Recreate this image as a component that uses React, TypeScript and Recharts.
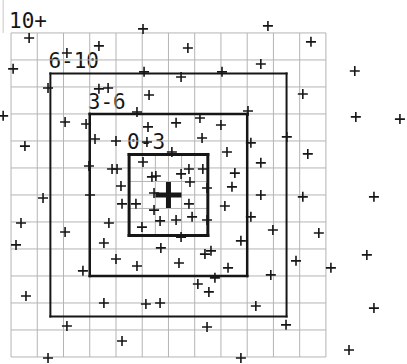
import React from "react";
import {
  ScatterChart,
  Scatter,
  XAxis,
  YAxis,
  ReferenceLine,
  ReferenceArea,
} from "recharts";

// grid runs 0..12 on both axes, points may fall outside it
const gridTicks = [0, 1, 2, 3, 4, 5, 6, 7, 8, 9, 10, 11, 12];
const fineTicks = [5.5, 6.5];

const rings = [
  { label: "10+", lo: 0, hi: 12 },
  { label: "6-10", lo: 1.5, hi: 10.5 },
  { label: "3-6", lo: 3, hi: 9 },
  { label: "0-3", lo: 4.5, hi: 7.5 },
];

const centre = [{ x: 6, y: 6 }];

const hits: [number, number][] = [
  [0.69, 11.81], [5.03, 12.15], [3.35, 11.52], [6.74, 11.44], [2.13, 11.26],
  [9.79, 12.26], [11.43, 11.67], [0.08, 10.67], [5.07, 10.56], [6.48, 10.37],
  [9.52, 10.85], [8.04, 10.56], [13.1, 10.59], [1.41, 9.96], [3.35, 9.93],
  [3.7, 9.96], [5.26, 9.7], [11.12, 9.74], [4.8, 9.07], [9.03, 9.11],
  [-0.3, 8.93], [2.06, 8.7], [2.86, 8.63], [5.22, 8.52], [6.29, 8.67],
  [7.2, 8.85], [8.0, 8.59], [13.14, 8.89], [14.82, 8.81], [3.2, 8.07],
  [4.0, 8.0], [5.18, 7.96], [7.28, 8.11], [0.53, 7.81], [9.14, 7.93],
  [10.51, 8.15], [6.13, 7.59], [8.23, 7.59], [11.31, 7.52], [5.03, 7.22],
  [2.97, 7.07], [3.85, 6.96], [4.04, 6.96], [6.78, 6.96], [7.31, 6.96],
  [6.48, 6.78], [5.37, 6.67], [5.52, 6.7], [6.82, 6.48], [8.53, 6.81],
  [9.52, 7.19], [4.19, 6.33], [7.47, 6.26], [8.42, 6.3], [1.22, 5.89],
  [3.01, 6.0], [5.45, 6.07], [9.52, 6.0], [11.12, 5.93], [13.83, 5.93],
  [4.23, 5.67], [4.76, 5.67], [6.78, 5.67], [5.45, 5.44], [8.15, 5.59],
  [0.38, 4.96], [3.73, 4.96], [4.99, 4.81], [5.68, 5.04], [6.29, 5.07],
  [6.9, 5.19], [7.47, 5.07], [9.14, 5.19], [2.06, 4.63], [9.98, 4.7],
  [11.73, 4.59], [6.48, 4.44], [8.76, 4.3], [0.19, 4.15], [3.54, 4.22],
  [5.71, 4.04], [7.39, 3.81], [7.62, 3.93], [13.56, 3.78], [4.0, 3.63],
  [6.4, 3.48], [4.8, 3.37], [8.27, 3.3], [10.86, 3.56], [12.19, 3.3],
  [2.74, 3.19], [7.77, 2.93], [9.9, 3.04], [7.12, 2.7], [7.54, 2.41],
  [0.57, 2.26], [3.54, 2.0], [5.14, 1.96], [5.68, 2.0], [9.33, 1.89],
  [13.83, 1.81], [2.13, 1.15], [7.47, 1.11], [10.48, 1.19], [4.23, 0.59],
  [12.88, 0.26], [1.41, -0.04], [8.76, -0.04],
];

const points = hits.map(([x, y]) => ({ x, y }));

const GRID = "#b4b4b4";
const INK = "#161616";
const ringWidth = [1, 2, 2.5, 3];

const SmallPlus = (props: any) => {
  const { cx, cy } = props;
  return (
    <path
      d={`M${cx - 5},${cy}H${cx + 5}M${cx},${cy - 5}V${cy + 5}`}
      stroke={INK}
      strokeWidth={1.6}
      fill="none"
    />
  );
};

const BigPlus = (props: any) => {
  const { cx, cy } = props;
  return (
    <path
      d={`M${cx - 13},${cy}H${cx + 13}M${cx},${cy - 13}V${cy + 13}`}
      stroke={INK}
      strokeWidth={5}
      fill="none"
    />
  );
};

const ringLabel = (text: string) => (props: any) => {
  const { viewBox } = props;
  return (
    <text
      x={viewBox.x - 2}
      y={viewBox.y - 5}
      fontFamily="DejaVu Sans Mono"
      fontSize={21}
      fill={INK}
    >
      {text}
    </text>
  );
};

// four sides of a square ring, as segments
const ringSides = (lo: number, hi: number) => [
  [{ x: lo, y: lo }, { x: hi, y: lo }],
  [{ x: hi, y: lo }, { x: hi, y: hi }],
  [{ x: hi, y: hi }, { x: lo, y: hi }],
  [{ x: lo, y: hi }, { x: lo, y: lo }],
];

export default function App() {
  return (
    <div style={{ position: "absolute", left: 0, top: 0, background: "#fff" }}>
      <ScatterChart
        width={407}
        height={364}
        margin={{ top: 0, right: 0, bottom: 0, left: 0 }}
      >
        <XAxis type="number" dataKey="x" domain={[-0.42, 15.09]} allowDataOverflow hide />
        <YAxis type="number" dataKey="y" domain={[-0.26, 13.22]} allowDataOverflow hide />

        {rings.map((r) => (
          <ReferenceArea
            key={`lab${r.label}`}
            x1={r.lo}
            x2={r.hi}
            y1={r.lo}
            y2={r.hi}
            fill="none"
            stroke="none"
            label={ringLabel(r.label)}
          />
        ))}

        {gridTicks.map((t) => (
          <ReferenceLine
            key={`v${t}`}
            segment={[{ x: t, y: 0 }, { x: t, y: 12 }]}
            stroke={GRID}
            strokeWidth={1}
          />
        ))}
        {gridTicks.map((t) => (
          <ReferenceLine
            key={`h${t}`}
            segment={[{ x: 0, y: t }, { x: 12, y: t }]}
            stroke={GRID}
            strokeWidth={1}
          />
        ))}
        {fineTicks.map((t) => (
          <ReferenceLine
            key={`fv${t}`}
            segment={[{ x: t, y: 4.5 }, { x: t, y: 7.5 }]}
            stroke={GRID}
            strokeWidth={1}
          />
        ))}
        {fineTicks.map((t) => (
          <ReferenceLine
            key={`fh${t}`}
            segment={[{ x: 4.5, y: t }, { x: 7.5, y: t }]}
            stroke={GRID}
            strokeWidth={1}
          />
        ))}
        <ReferenceLine
          segment={[{ x: -0.3, y: 12 }, { x: -0.3, y: 13.22 }]}
          stroke="#c8c8c8"
          strokeWidth={1}
        />

        {rings.slice(1).map((r, i) =>
          ringSides(r.lo, r.hi).map((seg, j) => (
            <ReferenceLine
              key={`ring${r.label}-${j}`}
              segment={seg}
              stroke={INK}
              strokeWidth={ringWidth[i + 1]}
              strokeLinecap="square"
            />
          ))
        )}

        <Scatter data={points} shape={SmallPlus} isAnimationActive={false} />
        <Scatter data={centre} shape={BigPlus} isAnimationActive={false} />
      </ScatterChart>
    </div>
  );
}
